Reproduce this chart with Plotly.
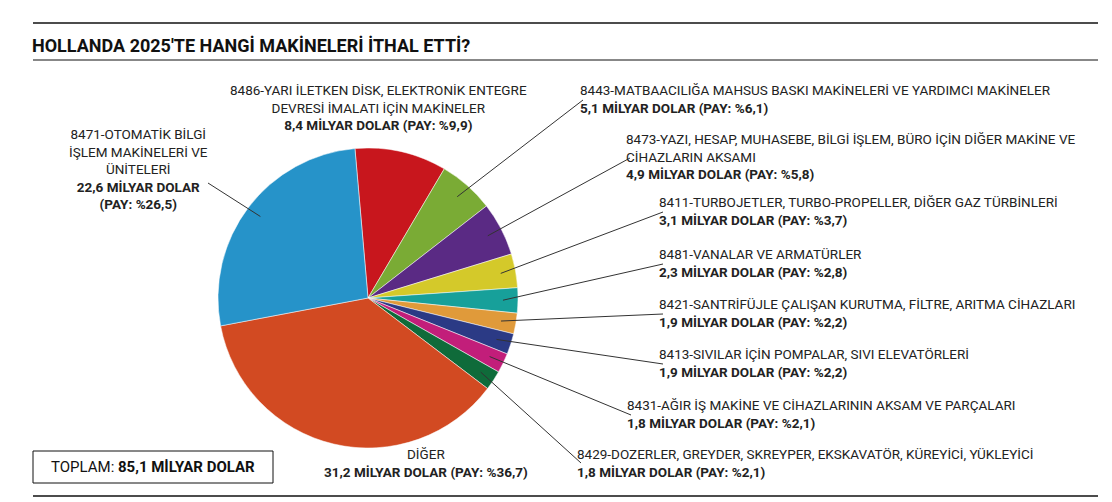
import plotly.graph_objects as go
import math

codes = ["8486","8443","8473","8411","8481","8421","8413","8431","8429","DİĞER","8471"]
values = [8.4,5.1,4.9,3.1,2.3,1.9,1.9,1.8,1.8,31.2,22.6]
shares = ["9,9","6,1","5,8","3,7","2,8","2,2","2,2","2,1","2,1","36,7","26,5"]
vals_txt = ["8,4","5,1","4,9","3,1","2,3","1,9","1,9","1,8","1,8","31,2","22,6"]
names = ["8486-YARI İLETKEN DİSK, ELEKTRONİK ENTEGRE<br>DEVRESİ İMALATI İÇİN MAKİNELER",
         "8443-MATBAACILIĞA MAHSUS BASKI MAKİNELERİ VE YARDIMCI MAKİNELER",
         "8473-YAZI, HESAP, MUHASEBE, BİLGİ İŞLEM, BÜRO İÇİN DİĞER MAKİNE VE<br>CİHAZLARIN AKSAMI",
         "8411-TURBOJETLER, TURBO-PROPELLER, DİĞER GAZ TÜRBİNLERİ",
         "8481-VANALAR VE ARMATÜRLER",
         "8421-SANTRİFÜJLE ÇALIŞAN KURUTMA, FİLTRE, ARITMA CİHAZLARI",
         "8413-SIVILAR İÇİN POMPALAR, SIVI ELEVATÖRLERİ",
         "8431-AĞIR İŞ MAKİNE VE CİHAZLARININ AKSAM VE PARÇALARI",
         "8429-DOZERLER, GREYDER, SKREYPER, EKSKAVATÖR, KÜREYİCİ, YÜKLEYİCİ",
         "DİĞER",
         "8471-OTOMATİK BİLGİ<br>İŞLEM MAKİNELERİ VE<br>ÜNİTELERİ"]
colors = ["#c8161d","#7aab35","#5a2a84","#d4c92a","#17a09a","#e09a3a","#2b3a85","#c21e7a","#0f6b3a","#d24a22","#2693c9"]

W, H = 1112, 502
cx, cy, R = 360, 290, 150
rot = -5

fig = go.Figure(go.Pie(values=values, marker=dict(colors=colors, line=dict(color="white", width=0.5)),
    sort=False, direction="clockwise", rotation=rot, textinfo="none", hoverinfo="skip",
    domain=dict(x=[(cx-R)/W, (cx+R)/W], y=[1-(cy+R)/H, 1-(cy-R)/H]), showlegend=False))

pos = [(370,72,"center"),(570,72,"left"),(616,121,"left"),(649,184,"left"),(649,236,"left"),
       (649,286,"left"),(649,336,"left"),(617,387,"left"),(567,436,"left"),(418,436,"center"),(130,116,"center")]
anchors = [None,(575,92),(622,150),(655,204),(655,256),(655,306),(655,356),(623,407),(573,455),None,(200,175)]

ann = []
tot = sum(values); acc = 0
for i in range(len(values)):
    mid = rot + (acc + values[i]/2)/tot*360
    acc += values[i]
    x, y, xa = pos[i]
    txt = f"{names[i]}<br><b>{vals_txt[i]} MİLYAR DOLAR (PAY: %{shares[i]})</b>"
    if i == 10:
        txt = f"{names[i]}<br><b>{vals_txt[i]} MİLYAR DOLAR<br>(PAY: %{shares[i]})</b>"
    ann.append(dict(x=x/W, y=1-y/H, xref="paper", yref="paper", xanchor=xa, yanchor="top",
                    align=xa if xa!="center" else "center", text=txt, showarrow=False,
                    font=dict(size=13.5, color="#222")))
    if anchors[i]:
        a = math.radians(mid)
        px, py = cx + R*0.9*math.sin(a), cy - R*0.9*math.cos(a)
        ax, ay = anchors[i]
        fig.add_shape(type="line", xref="paper", yref="paper", x0=px/W, y0=1-py/H, x1=ax/W, y1=1-ay/H,
                      line=dict(color="#333", width=1))

ann.append(dict(x=22/W, y=1-37/H, xref="paper", yref="paper", xanchor="left", yanchor="middle",
                text="<b>HOLLANDA 2025'TE HANGİ MAKİNELERİ İTHAL ETTİ?</b>", showarrow=False,
                font=dict(size=18, color="#111")))
ann.append(dict(x=145/W, y=1-459/H, xref="paper", yref="paper", xanchor="center", yanchor="middle",
                text="TOPLAM: <b>85,1 MİLYAR DOLAR</b>", showarrow=False, font=dict(size=15, color="#111")))
for yy in (15, 52, 488):
    fig.add_shape(type="line", xref="paper", yref="paper", x0=25/W, x1=1090/W, y0=1-yy/H, y1=1-yy/H,
                  line=dict(color="#111", width=1.5 if yy != 52 else 1))
fig.add_shape(type="rect", xref="paper", yref="paper", x0=25/W, x1=265/W, y0=1-475/H, y1=1-443/H,
              line=dict(color="#111", width=1))

fig.update_layout(width=W, height=H, margin=dict(l=0, r=0, t=0, b=0), paper_bgcolor="white",
                  font=dict(family="Roboto"), annotations=ann)
fig.write_html("out.html")
